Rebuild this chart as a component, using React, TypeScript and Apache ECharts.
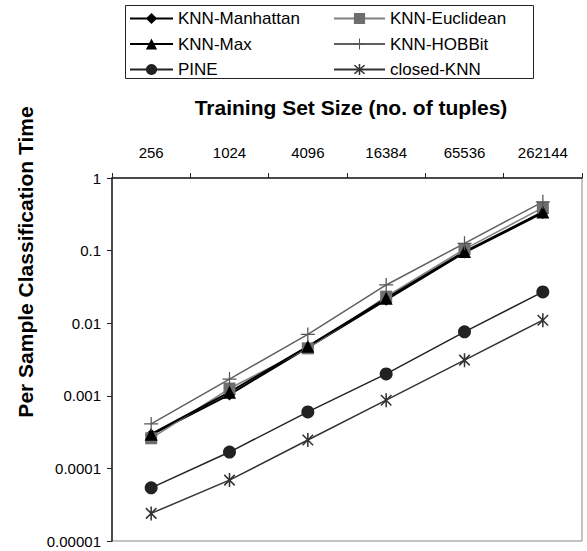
import React, { useEffect, useRef } from "react";
import * as echarts from "echarts";

const categories = ["256", "1024", "4096", "16384", "65536", "262144"];
const seriesNames = ["KNN-Manhattan", "KNN-Euclidean", "KNN-Max", "KNN-HOBBit", "PINE", "closed-KNN"];
const knnManhattan = [0.00029, 0.00104, 0.0046, 0.021, 0.094, 0.33];
const knnEuclidean = [0.00026, 0.00126, 0.0045, 0.0232, 0.105, 0.39];
const knnMax = [0.000296, 0.00112, 0.0048, 0.022, 0.097, 0.34];
const knnHobbit = [0.00041, 0.0017, 0.007, 0.0336, 0.126, 0.47];
const pine = [0.000054, 0.000168, 0.0006, 0.002, 0.0076, 0.027];
const closedKnn = [0.000024, 0.000069, 0.000246, 0.00087, 0.0031, 0.011];
const xTitle = "Training Set Size (no. of tuples)";
const yTitle = "Per Sample Classification Time";

const FONT = "'Liberation Sans', Arial, sans-serif";

function barPoly(x1: number, y1: number, x2: number, y2: number, t: number) {
  const dx = x2 - x1, dy = y2 - y1;
  const len = Math.sqrt(dx * dx + dy * dy);
  const nx = (-dy / len) * t, ny = (dx / len) * t;
  const p = (a: number, b: number) => `${a.toFixed(2)},${b.toFixed(2)}`;
  return `M${p(x1 + nx, y1 + ny)}L${p(x2 + nx, y2 + ny)}L${p(x2 - nx, y2 - ny)}L${p(x1 - nx, y1 - ny)}Z`;
}
const plusPath = "path://" + barPoly(10, 0, 10, 20, 0.9) + barPoly(0, 10, 20, 10, 0.9);
const starPath =
  "path://" + barPoly(10, 0, 10, 20, 1.1) + barPoly(2.5, 2.5, 17.5, 17.5, 1.1) + barPoly(17.5, 2.5, 2.5, 17.5, 1.1);

export default function App() {
  const ref = useRef<HTMLDivElement>(null);
  useEffect(() => {
    if (!ref.current) return;
    const chart = echarts.init(ref.current, undefined, { renderer: "svg" });
    const mk = (name: string, data: number[], color: string, lineColor: string, width: number, symbol: string, size: number, extra: any = {}) => ({
      name,
      type: "line",
      data,
      symbol,
      symbolSize: size,
      showSymbol: true,
      lineStyle: { color: lineColor, width },
      itemStyle: { color, borderColor: color, borderWidth: 0 },
      emphasis: { disabled: true },
      ...extra,
    });
    const legendBase = {
      orient: "vertical",
      top: 10,
      itemHeight: 14,
      itemGap: 8.5,
      padding: 0,
      textStyle: { fontSize: 17, fontFamily: FONT, color: "#000" },
      selectedMode: false,
    };
    chart.setOption({
      animation: false,
      backgroundColor: "#fff",
      grid: { left: 112, right: 5, top: 178, bottom: 10, show: true, borderColor: "#888", borderWidth: 1 },
      legend: [
        { ...legendBase, left: 129, itemWidth: 43, data: [seriesNames[0], seriesNames[2], seriesNames[4]] },
        { ...legendBase, left: 333, itemWidth: 51, data: [seriesNames[1], seriesNames[3], seriesNames[5]] },
      ],
      xAxis: {
        type: "category",
        position: "top",
        data: categories,
        boundaryGap: true,
        axisLine: { lineStyle: { color: "#222", width: 1.5 } },
        axisTick: { show: true, inside: false, length: 5, lineStyle: { color: "#222" } },
        axisLabel: { fontSize: 15, fontFamily: FONT, color: "#000", margin: 18 },
        splitLine: { show: false },
      },
      yAxis: {
        type: "log",
        logBase: 10,
        min: 0.00001,
        max: 1,
        axisLine: { show: true, lineStyle: { color: "#222", width: 1.5 } },
        axisTick: { show: true, inside: false, length: 5, lineStyle: { color: "#222" } },
        axisLabel: {
          fontSize: 15,
          fontFamily: FONT,
          color: "#000",
          margin: 11,
          formatter: (v: number) => {
            const n = Math.round(-Math.log10(v));
            return n <= 0 ? "1" : v.toFixed(n);
          },
        },
        splitLine: { show: false },
        minorTick: { show: false },
      },
      graphic: [
        {
          type: "rect",
          shape: { x: 125.5, y: 5.5, width: 408, height: 73 },
          style: { fill: "none", stroke: "#222", lineWidth: 1 },
          z: -1,
        },
        {
          type: "text",
          x: 351,
          y: 107,
          style: { text: xTitle, fontSize: 21, fontWeight: "bold", fontFamily: FONT, fill: "#000", textAlign: "center", textVerticalAlign: "middle" },
        },
        {
          type: "text",
          x: 25,
          y: 262,
          rotation: Math.PI / 2,
          style: { text: yTitle, fontSize: 21, fontWeight: "bold", fontFamily: FONT, fill: "#000", textAlign: "center", textVerticalAlign: "middle" },
        },
      ],
      series: [
        mk(seriesNames[0], knnManhattan, "#000", "#000", 2, "diamond", 12),
        mk(seriesNames[1], knnEuclidean, "#6e6e6e", "#808080", 1.5, "rect", 12),
        mk(seriesNames[2], knnMax, "#000", "#000", 2, "triangle", 13),
        mk(seriesNames[3], knnHobbit, "#555", "#606060", 1.5, plusPath, 14),
        mk(seriesNames[4], pine, "#222", "#222", 1.5, "circle", 13),
        mk(seriesNames[5], closedKnn, "#333", "#333", 1.5, starPath, 14, { symbolKeepAspect: true }),
      ],
    });
    return () => chart.dispose();
  }, []);
  return <div ref={ref} style={{ position: "fixed", left: 0, top: 0, width: 587, height: 551 }} />;
}
